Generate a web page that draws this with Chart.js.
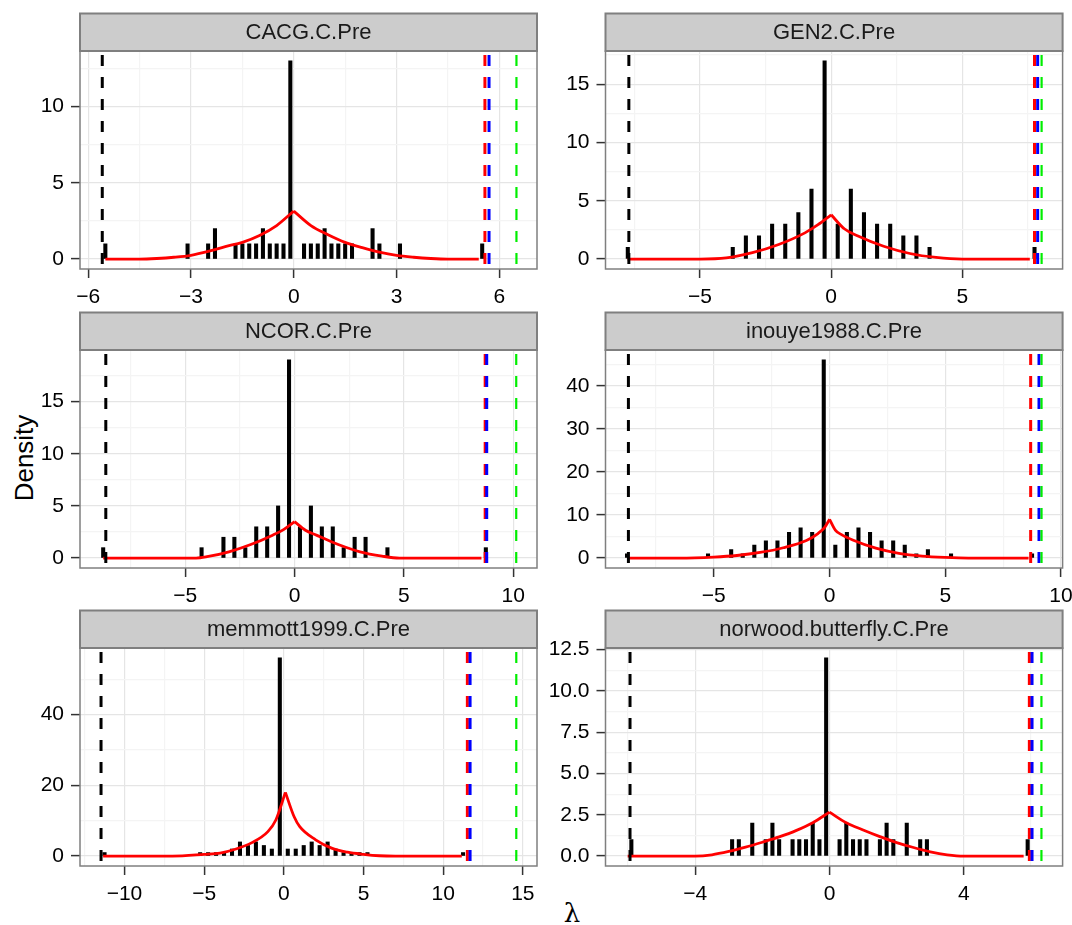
<!DOCTYPE html>
<html>
<head>
<meta charset="utf-8">
<script src="https://cdn.jsdelivr.net/npm/chart.js@4.4.1/dist/chart.umd.min.js"></script>
<style>
  html, body { margin: 0; padding: 0; background: #fff; }
  #page { position: relative; width: 1072px; height: 925px; overflow: hidden; font-family: "Liberation Sans", Arial, sans-serif; }
  #page canvas { position: absolute; }
  .ytitle { position: absolute; left: 24px; top: 458px; transform: translate(-50%, -50%) rotate(-90deg); font-size: 26px; white-space: nowrap; color: #000; }
  .xtitle { position: absolute; left: 572px; top: 913px; transform: translate(-50%, -50%); font: 26px "DejaVu Serif", serif; color: #000; }
</style>
</head>
<body>
<div id="page">
  <div class="ytitle">Density</div>
  <div class="xtitle">λ</div>
</div>
<script>
const panelNames = ['CACG.C.Pre', 'GEN2.C.Pre', 'NCOR.C.Pre', 'inouye1988.C.Pre', 'memmott1999.C.Pre', 'norwood.butterfly.C.Pre'];

// CACG.C.Pre
const cacgBarX = [-5.5, -3.1, -2.5, -2.3, -1.7, -1.5, -1.3, -1.1, -0.9, -0.7, -0.5, -0.3, -0.1, 0.3, 0.5, 0.7, 0.9, 1.1, 1.3, 1.5, 1.7, 2.3, 2.5, 3.1, 5.5];
const cacgBarY = [1, 1, 1, 2, 1, 1, 1, 1, 2, 1, 1, 1, 13, 1, 1, 1, 2, 1, 1, 1, 1, 2, 1, 1, 1];
const cacgLineX = [-5.5, -4.5, -4.0, -3.5, -3.0, -2.5, -2.0, -1.5, -1.0, -0.5, 0, 0.5, 1.0, 1.5, 2.0, 2.5, 3.0, 3.5, 4.0, 4.5, 5.4];
const cacgLineY = [0, 0, 0.04, 0.12, 0.25, 0.5, 0.82, 1.1, 1.55, 2.2, 3.15, 2.2, 1.6, 1.1, 0.75, 0.45, 0.24, 0.12, 0.04, 0, 0];
const cacgVlines = [-5.59, 5.58, 5.70, 6.50];
const cacgXRange = [-6.24, 7.10];
const cacgYRange = [-0.65, 13.65];
const cacgXTicks = [-6, -3, 0, 3, 6];
const cacgXMinor = [-4.5, -1.5, 1.5, 4.5];
const cacgYTicks = [0, 5, 10];
const cacgYMinor = [2.5, 7.5, 12.5];

// GEN2.C.Pre
const gen2BarX = [-7.75, -3.75, -3.25, -2.75, -2.25, -1.75, -1.25, -0.75, -0.25, 0.25, 0.75, 1.25, 1.75, 2.25, 2.75, 3.25, 3.75, 7.75];
const gen2BarY = [1, 1, 2, 2, 3, 3, 4, 6, 17, 3, 6, 4, 3, 3, 2, 2, 1, 1];
const gen2LineX = [-7.76, -5, -4, -3, -2, -1, -0.5, 0, 0.5, 1, 2, 3, 4, 5, 7.57];
const gen2LineY = [0, 0, 0.1, 0.55, 1.25, 2.25, 2.95, 3.8, 2.6, 2.0, 1.1, 0.48, 0.14, 0, 0];
const gen2Vlines = [-7.71, 7.75, 7.87, 8.02];
const gen2XRange = [-8.60, 8.82];
const gen2YRange = [-0.85, 17.85];
const gen2XTicks = [-5, 0, 5];
const gen2XMinor = [-7.5, -2.5, 2.5, 7.5];
const gen2YTicks = [0, 5, 10, 15];
const gen2YMinor = [2.5, 7.5, 12.5, 17.5];

// NCOR.C.Pre
const ncorBarX = [-8.75, -4.25, -3.25, -2.75, -2.25, -1.75, -1.25, -0.75, -0.25, 0.25, 0.75, 1.25, 1.75, 2.25, 2.75, 3.25, 4.25, 8.75];
const ncorBarY = [1, 1, 2, 2, 1, 3, 3, 5, 19, 3, 5, 3, 3, 1, 2, 2, 1, 1];
const ncorLineX = [-8.75, -4.5, -4, -3, -2, -1, -0.5, 0, 0.5, 1, 2, 3, 4, 4.8, 8.55];
const ncorLineY = [0, 0, 0.13, 0.6, 1.3, 2.2, 2.73, 3.5, 2.67, 2.2, 1.3, 0.6, 0.19, 0, 0];
const ncorVlines = [-8.63, 8.72, 8.79, 10.14];
const ncorXRange = [-9.81, 11.09];
const ncorYRange = [-0.95, 19.95];
const ncorXTicks = [-5, 0, 5, 10];
const ncorXMinor = [-7.5, -2.5, 2.5, 7.5];
const ncorYTicks = [0, 5, 10, 15];
const ncorYMinor = [2.5, 7.5, 12.5, 17.5];

// inouye1988.C.Pre
const inouyeBarX = [-8.75, -5.25, -4.25, -3.75, -3.25, -2.75, -2.25, -1.75, -1.25, -0.75, -0.25, 0.25, 0.75, 1.25, 1.75, 2.25, 2.75, 3.25, 3.75, 4.25, 5.25, 8.75];
const inouyeBarY = [1, 1, 2, 1, 3, 4, 4, 6, 7, 6, 46, 3, 6, 7, 6, 4, 4, 3, 1, 2, 1, 1];
const inouyeLineX = [-8.72, -6.5, -5, -4, -3, -2, -1, -0.5, -0.2, 0, 0.25, 0.5, 1, 2, 3, 4, 5, 6, 8.6];
const inouyeLineY = [0, 0, 0.23, 0.6, 1.3, 2.4, 4.1, 5.7, 7.2, 9.0, 6.5, 5.5, 4.2, 2.3, 1.1, 0.46, 0.15, 0, 0];
const inouyeVlines = [-8.69, 8.69, 9.05, 9.16];
const inouyeXRange = [-9.68, 10.07];
const inouyeYRange = [-2.3, 48.3];
const inouyeXTicks = [-5, 0, 5, 10];
const inouyeXMinor = [-7.5, -2.5, 2.5, 7.5];
const inouyeYTicks = [0, 10, 20, 30, 40];
const inouyeYMinor = [5, 15, 25, 35, 45];

// memmott1999.C.Pre
const memmottBarX = [-11.25, -5.25, -4.75, -4.25, -3.75, -3.25, -2.75, -2.25, -1.75, -1.25, -0.75, -0.25, 0.25, 0.75, 1.25, 1.75, 2.25, 2.75, 3.25, 3.75, 4.25, 4.75, 5.25, 11.25];
const memmottBarY = [1, 1, 1, 1, 1, 2, 4, 3, 4, 3, 2, 56, 2, 2, 3, 4, 3, 4, 2, 1, 1, 1, 1, 1];
const memmottLineX = [-11.34, -7, -5, -4, -3, -2, -1, -0.5, 0.1, 0.65, 1, 2, 3, 4, 5, 6, 7, 11.17];
const memmottLineY = [0, 0, 0.5, 0.85, 2.0, 3.8, 6.9, 10.2, 18, 11.1, 8.3, 4.6, 2.25, 1.1, 0.5, 0.1, 0, 0];
const memmottVlines = [-11.47, 11.52, 11.69, 14.59];
const memmottXRange = [-12.79, 15.89];
const memmottYRange = [-2.8, 58.8];
const memmottXTicks = [-10, -5, 0, 5, 10, 15];
const memmottXMinor = [-12.5, -7.5, -2.5, 2.5, 7.5, 12.5];
const memmottYTicks = [0, 20, 40];
const memmottYMinor = [10, 30, 50];

// norwood.butterfly.C.Pre
const norwoodBarX = [-5.9, -2.9, -2.7, -2.3, -1.9, -1.7, -1.5, -1.1, -0.9, -0.7, -0.5, -0.3, -0.1, 0.3, 0.5, 0.7, 0.9, 1.1, 1.5, 1.7, 1.9, 2.3, 2.7, 2.9, 5.9];
const norwoodBarY = [1, 1, 1, 2, 1, 2, 1, 1, 1, 1, 2, 1, 12, 1, 2, 1, 1, 1, 1, 2, 1, 2, 1, 1, 1];
const norwoodLineX = [-6.01, -4, -3.5, -3, -2.5, -2, -1.5, -1, -0.5, 0, 0.5, 1, 1.5, 2, 2.5, 3, 3.5, 4, 5.78];
const norwoodLineY = [0, 0, 0.08, 0.28, 0.54, 0.84, 1.16, 1.54, 2.02, 2.66, 2.02, 1.58, 1.18, 0.82, 0.52, 0.26, 0.08, 0, 0];
const norwoodVlines = [-5.94, 5.95, 6.03, 6.31];
const norwoodXRange = [-6.67, 6.94];
const norwoodYRange = [-0.6, 12.6];
const norwoodXTicks = [-4, 0, 4];
const norwoodXMinor = [-6, -2, 2, 6];
const norwoodYTicks = [0, 2.5, 5, 7.5, 10, 12.5];
const norwoodYMinor = [1.25, 3.75, 6.25, 8.75, 11.25];

const panels = [
  { name: panelNames[0], barX: cacgBarX, barY: cacgBarY, lineX: cacgLineX, lineY: cacgLineY, vlines: cacgVlines,
    xRange: cacgXRange, yRange: cacgYRange, xTicks: cacgXTicks, xMinor: cacgXMinor, yTicks: cacgYTicks, yMinor: cacgYMinor, yDigits: 0 },
  { name: panelNames[1], barX: gen2BarX, barY: gen2BarY, lineX: gen2LineX, lineY: gen2LineY, vlines: gen2Vlines,
    xRange: gen2XRange, yRange: gen2YRange, xTicks: gen2XTicks, xMinor: gen2XMinor, yTicks: gen2YTicks, yMinor: gen2YMinor, yDigits: 0 },
  { name: panelNames[2], barX: ncorBarX, barY: ncorBarY, lineX: ncorLineX, lineY: ncorLineY, vlines: ncorVlines,
    xRange: ncorXRange, yRange: ncorYRange, xTicks: ncorXTicks, xMinor: ncorXMinor, yTicks: ncorYTicks, yMinor: ncorYMinor, yDigits: 0 },
  { name: panelNames[3], barX: inouyeBarX, barY: inouyeBarY, lineX: inouyeLineX, lineY: inouyeLineY, vlines: inouyeVlines,
    xRange: inouyeXRange, yRange: inouyeYRange, xTicks: inouyeXTicks, xMinor: inouyeXMinor, yTicks: inouyeYTicks, yMinor: inouyeYMinor, yDigits: 0 },
  { name: panelNames[4], barX: memmottBarX, barY: memmottBarY, lineX: memmottLineX, lineY: memmottLineY, vlines: memmottVlines,
    xRange: memmottXRange, yRange: memmottYRange, xTicks: memmottXTicks, xMinor: memmottXMinor, yTicks: memmottYTicks, yMinor: memmottYMinor, yDigits: 0 },
  { name: panelNames[5], barX: norwoodBarX, barY: norwoodBarY, lineX: norwoodLineX, lineY: norwoodLineY, vlines: norwoodVlines,
    xRange: norwoodXRange, yRange: norwoodYRange, xTicks: norwoodXTicks, xMinor: norwoodXMinor, yTicks: norwoodYTicks, yMinor: norwoodYMinor, yDigits: 1 }
];

// layout of the facet grid
const colLeft = [0, 540];
const colWidth = [540, 532];
const yAxisWidth = [80, 65.5];
const rightPad = [3, 9.4];
const rowPlotTop = [51, 350, 648];
const topPad = 48;      // space above plot for the strip
const xAxisHeight = 40;
const plotHeight = 218;
const stripHeight = 37.5;

const vlineColors = ['#000000', '#ff0000', '#0000ff', '#00ee00'];
const vlineWidths = [3, 3, 3, 2.2];
const fontFamily = '"Liberation Sans", Arial, sans-serif';

function fmt(v, digits) {
  const s = Math.abs(v).toFixed(digits);
  return (v < 0 ? '\u2212' : '') + s;
}

// strip on top of each panel + grey panel border
const panelFrame = {
  id: 'panelFrame',
  afterDraw(chart, args, opts) {
    const ctx = chart.ctx;
    const a = chart.chartArea;
    ctx.save();
    ctx.strokeStyle = '#7f7f7f';
    ctx.lineWidth = 1.5;
    ctx.strokeRect(a.left, a.top, a.right - a.left, a.bottom - a.top);
    ctx.fillStyle = '#cccccc';
    ctx.fillRect(a.left, a.top - stripHeight, a.right - a.left, stripHeight);
    ctx.lineWidth = 2;
    ctx.strokeRect(a.left, a.top - stripHeight, a.right - a.left, stripHeight);
    ctx.fillStyle = '#1a1a1a';
    ctx.font = '22px ' + fontFamily;
    ctx.textAlign = 'center';
    ctx.textBaseline = 'middle';
    ctx.fillText(opts.title, (a.left + a.right) / 2, a.top - stripHeight / 2 + 1);
    ctx.restore();
  }
};

function axisConfig(range, majors, minors, digits, isX) {
  const majorSet = new Set(majors);
  const isMajor = ctx => ctx.tick && majorSet.has(ctx.tick.value);
  return {
    type: 'linear',
    min: range[0],
    max: range[1],
    offset: false,
    border: { display: false },
    grid: {
      offset: false,
      color: ctx => isMajor(ctx) ? '#e5e5e5' : '#f4f4f4',
      lineWidth: 1.2,
      drawTicks: true,
      tickLength: 9,
      tickWidth: 1.5,
      tickColor: ctx => isMajor(ctx) ? '#333333' : 'rgba(0,0,0,0)'
    },
    ticks: {
      autoSkip: false,
      maxRotation: 0,
      padding: 7,
      color: '#000000',
      font: { family: fontFamily, size: 21 },
      callback: value => majorSet.has(value) ? fmt(value, digits) : ''
    },
    afterBuildTicks: axis => {
      axis.ticks = majors.concat(minors)
        .filter(v => v >= range[0] && v <= range[1])
        .sort((a, b) => a - b)
        .map(v => ({ value: v }));
    },
    afterFit: axis => {
      if (isX) {
        axis.height = xAxisHeight;
        axis.paddingLeft = 0;
        axis.paddingRight = 0;
      }
      axis.paddingTop = 0;
      axis.paddingBottom = 0;
    }
  };
}

const page = document.getElementById('page');

panels.forEach((p, i) => {
  const col = i % 2;
  const row = Math.floor(i / 2);
  const canvas = document.createElement('canvas');
  canvas.width = colWidth[col];
  canvas.height = topPad + plotHeight + xAxisHeight;
  canvas.style.left = colLeft[col] + 'px';
  canvas.style.top = (rowPlotTop[row] - topPad) + 'px';
  page.appendChild(canvas);

  const bars = p.barX.map((x, k) => ({ x: x, y: p.barY[k] }));
  const curve = p.lineX.map((x, k) => ({ x: x, y: p.lineY[k] }));
  const peak = p.lineY.indexOf(Math.max(...p.lineY));

  const datasets = [
    { type: 'bar', data: bars, backgroundColor: '#000000', borderWidth: 0, barThickness: 3.4, order: 10 },
    { type: 'line', data: curve.slice(0, peak + 1), borderColor: '#ff0000', borderWidth: 2.8,
      pointRadius: 0, cubicInterpolationMode: 'monotone', borderJoinStyle: 'round', order: 5 },
    { type: 'line', data: curve.slice(peak), borderColor: '#ff0000', borderWidth: 2.8,
      pointRadius: 0, cubicInterpolationMode: 'monotone', borderJoinStyle: 'round', order: 5 }
  ];
  p.vlines.forEach((v, k) => {
    datasets.push({
      type: 'line',
      data: [{ x: v, y: p.yRange[1] }, { x: v, y: p.yRange[0] }],
      borderColor: vlineColors[k],
      borderWidth: vlineWidths[k],
      borderDash: [11, 11],
      borderDashOffset: 18,
      pointRadius: 0,
      order: 4 - k
    });
  });

  const yAxis = axisConfig(p.yRange, p.yTicks, p.yMinor, p.yDigits, false);
  const baseYFit = yAxis.afterFit;
  yAxis.afterFit = axis => { baseYFit(axis); axis.width = yAxisWidth[col]; };

  new Chart(canvas.getContext('2d'), {
    type: 'line',
    data: { datasets: datasets },
    options: {
      responsive: false,
      animation: false,
      devicePixelRatio: 1,
      events: [],
      layout: { padding: { top: topPad, right: rightPad[col], bottom: 0, left: 0 } },
      plugins: {
        legend: { display: false },
        tooltip: { enabled: false },
        panelFrame: { title: p.name }
      },
      scales: {
        x: axisConfig(p.xRange, p.xTicks, p.xMinor, 0, true),
        y: yAxis
      }
    },
    plugins: [panelFrame]
  });
});
</script>
</body>
</html>
